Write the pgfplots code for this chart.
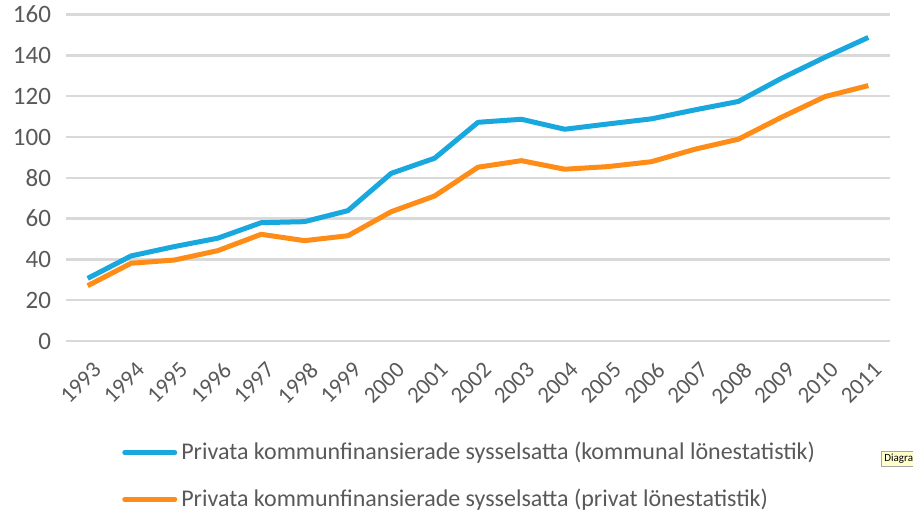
\documentclass[border=0pt]{standalone}
\usepackage{pgfplots}
\pgfplotsset{compat=1.18}
\usepackage{fontspec}
\setmainfont{Carlito}
\definecolor{cblue}{RGB}{25,168,222}
\definecolor{corange}{RGB}{255,140,22}
\definecolor{ctext}{RGB}{89,89,89}
\definecolor{cgrid}{RGB}{217,217,217}
\begin{document}
\begin{tikzpicture}
\useasboundingbox (0,0) rectangle (456.5pt,263pt);
\begin{axis}[
  at={(33pt,92.5pt)}, anchor=south west,
  scale only axis, width=412pt, height=163.2pt,
  xmin=-0.5, xmax=18.5, ymin=0, ymax=160,
  ytick={0,20,...,160},
  xtick={0,...,18},
  xticklabels={1993,1994,1995,1996,1997,1998,1999,2000,2001,2002,2003,2004,2005,2006,2007,2008,2009,2010,2011},
  axis line style={draw=none},
  major tick length=0pt,
  ymajorgrids, grid style={cgrid, line width=1.2pt},
  tick label style={font=\fontsize{11.5}{13}\selectfont, text=ctext},
  /pgf/number format/assume math mode=true,
  yticklabel style={xshift=-4pt, font=\fontsize{12.5}{14}\selectfont},
  xticklabel style={xshift=2pt, yshift=-9pt, rotate=45, anchor=north east, inner sep=0.5pt},
  legend style={at={(0.0605,-0.285)}, anchor=north west, draw=none, fill=none,
    font=\fontsize{12}{14}\selectfont, text=ctext, row sep=9pt,
    /tikz/every even column/.append style={column sep=0pt}},
  legend cell align=left,
  legend image code/.code={\draw[#1, line width=2.5pt, line cap=round] (0pt,0pt) -- (25pt,0pt);},
]
\addplot[cblue, line width=2.5pt, line join=round] coordinates {
(0,30.7)(1,41.7)(2,46.3)(3,50.4)(4,58.0)(5,58.5)(6,63.9)(7,82.2)(8,89.6)(9,107.2)
(10,108.7)(11,103.8)(12,106.4)(13,108.9)(14,113.3)(15,117.4)(16,128.8)(17,139.1)(18,148.8)};
\addlegendentry{Privata kommunfinansierade sysselsatta (kommunal lönestatistik)}
\addplot[corange, line width=2.5pt, line join=round] coordinates {
(0,27.1)(1,38.1)(2,39.7)(3,44.3)(4,52.3)(5,49.2)(6,51.6)(7,63.4)(8,71.1)(9,85.2)
(10,88.4)(11,84.2)(12,85.5)(13,87.9)(14,94.0)(15,98.9)(16,109.7)(17,119.8)(18,125.2)};
\addlegendentry{Privata kommunfinansierade sysselsatta (privat lönestatistik)}
\end{axis}
\node[draw=gray!70, fill={rgb,255:red,255;green,255;blue,204}, anchor=south west, inner sep=1.5pt,
  font=\fontsize{5.5}{6}\selectfont] at (440.5pt,29.5pt) {Diagram};
\end{tikzpicture}
\end{document}
